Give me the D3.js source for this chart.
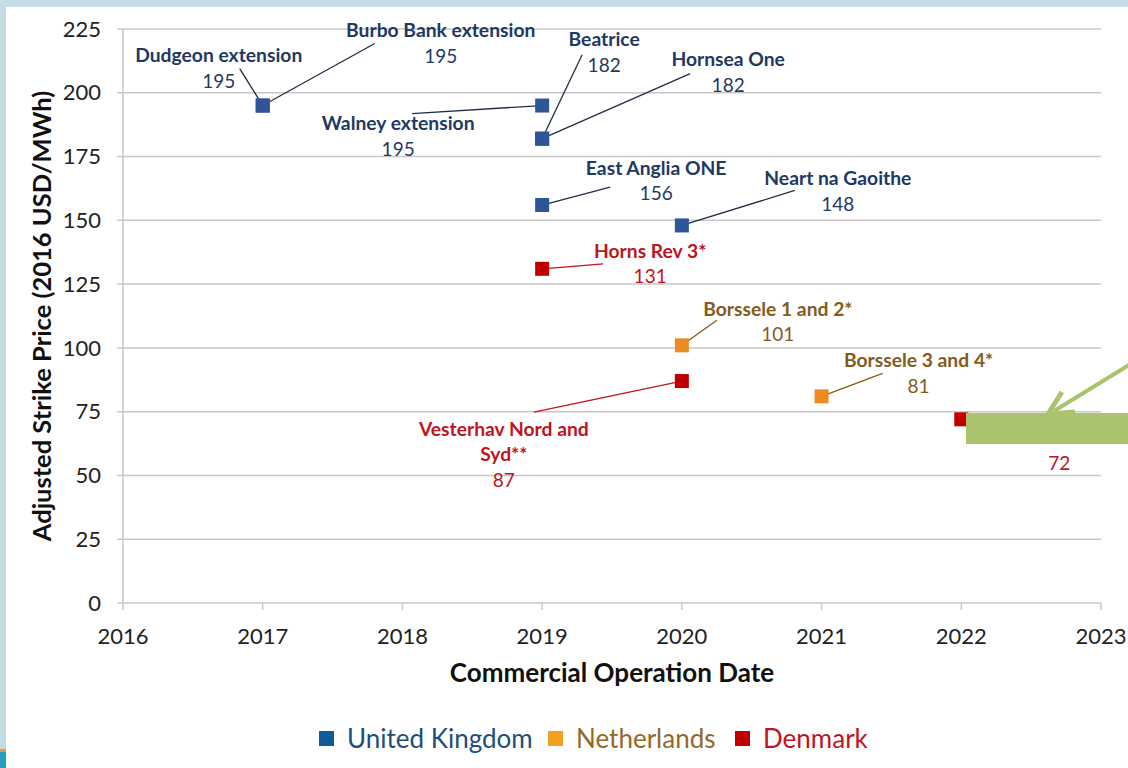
<!DOCTYPE html>
<html><head><meta charset="utf-8">
<script src="https://cdn.jsdelivr.net/npm/d3@7"></script>
<style>
html,body{margin:0;padding:0;background:#fff;}
svg{display:block;font-family:Lato,"Open Sans",sans-serif;}
</style></head>
<body><svg id="chart" width="1128" height="768"></svg>
<script>
// ---- data ----
const projects = ["Dudgeon extension","Burbo Bank extension","Walney extension","Beatrice","Hornsea One","East Anglia ONE","Neart na Gaoithe","Horns Rev 3*","Borssele 1 and 2*","Vesterhav Nord and Syd**","Borssele 3 and 4*","Kriegers Flak"];
const countries = ["United Kingdom","United Kingdom","United Kingdom","United Kingdom","United Kingdom","United Kingdom","United Kingdom","Denmark","Netherlands","Denmark","Netherlands","Denmark"];
const years = [2017,2017,2019,2019,2019,2019,2020,2019,2020,2020,2021,2022];
const prices = [195,195,195,182,182,156,148,131,101,87,81,72];
const seriesNames = ["United Kingdom","Netherlands","Denmark"];
const yTicks = [0,25,50,75,100,125,150,175,200,225];
const xTicks = [2016,2017,2018,2019,2020,2021,2022,2023];

// ---- layout (label offsets from point, px) ----
const labelOffsets = [[-44,-50],[178,-75],[-144,18],[62,-99],[186,-79],[114,-37],[156,-47],[108,-18],[96,-36],[-178,48],[97,-36],[98,13]];
const valueGaps = [25.5,25.5,25.5,25.5,25.5,25.5,25.5,25.5,25.5,25.5,25.5,31];
const leaderStarts = [[-23,-37],[112,-62],[-130,8],[40,-84],[148,-65],[68,-18],[113,-35],[61,-5],[35,-25],[-148,31],[61,-23],[40,0]];
const markerColor = {"United Kingdom":"#2F5597","Netherlands":"#ED8B23","Denmark":"#C00000"};
const textColor = {"United Kingdom":"#1F3864","Netherlands":"#845B1E","Denmark":"#C0141E"};
const lineColor = {"United Kingdom":"#1F2D45","Netherlands":"#845B1E","Denmark":"#C0141E"};
const legendText = {"United Kingdom":"#1E4E79","Netherlands":"#94682A","Denmark":"#C0141E"};
const legendMarker = {"United Kingdom":"#0F5C9A","Netherlands":"#F2A021","Denmark":"#C00000"};

const svg = d3.select("#chart");
// frame
svg.append("rect").attr("x",0).attr("y",0).attr("width",1128).attr("height",768).attr("fill","#fff");
svg.append("rect").attr("x",0).attr("y",0).attr("width",1128).attr("height",7).attr("fill","#C5DCE4");
svg.append("rect").attr("x",0).attr("y",0).attr("width",6).attr("height",749).attr("fill","#C5DCE4");
svg.append("rect").attr("x",0).attr("y",749).attr("width",6).attr("height",3).attr("fill","#E8964A");
svg.append("rect").attr("x",0).attr("y",752).attr("width",6).attr("height",16).attr("fill","#2A9DBD");

const x = d3.scaleLinear().domain([2016,2023]).range([123,1101]);
const y = d3.scaleLinear().domain([0,225]).range([603,29]);

// gridlines
const g = svg.append("g");
g.selectAll("line.grid").data(yTicks).join("line")
  .attr("x1",117).attr("x2",1101).attr("y1",d=>y(d)).attr("y2",d=>y(d))
  .attr("stroke","#C8C8C8").attr("stroke-width",1.5);
g.append("line").attr("x1",123).attr("x2",123).attr("y1",y(225)).attr("y2",y(0)).attr("stroke","#C8C8C8").attr("stroke-width",1.5);
g.selectAll("line.xt").data(xTicks).join("line")
  .attr("x1",d=>x(d)).attr("x2",d=>x(d)).attr("y1",y(0)).attr("y2",y(0)+7)
  .attr("stroke","#C8C8C8").attr("stroke-width",1.5);

// tick labels
g.selectAll("text.yl").data(yTicks).join("text")
  .attr("x",101).attr("y",d=>y(d)).attr("dy","0.35em").attr("text-anchor","end")
  .attr("font-size",22).attr("fill","#222").text(d=>d);
g.selectAll("text.xl").data(xTicks).join("text")
  .attr("x",d=>x(d)).attr("y",636).attr("dy","0.35em").attr("text-anchor","middle")
  .attr("font-size",22).attr("fill","#222").text(d=>d);

// axis titles
svg.append("text").attr("transform","translate(42,316) rotate(-90)").attr("text-anchor","middle").attr("dy","0.35em")
  .attr("font-size",25.5).attr("font-weight","bold").attr("fill","#111").text("Adjusted Strike Price (2016 USD/MWh)");
svg.append("text").attr("x",612).attr("y",673).attr("dy","0.35em").attr("text-anchor","middle")
  .attr("font-size",26).attr("font-weight","bold").attr("fill","#111").text("Commercial Operation Date");

const pts = projects.map((p,i)=>({name:p,country:countries[i],year:years[i],price:prices[i],off:labelOffsets[i],ls:leaderStarts[i],gap:valueGaps[i]}));

// leaders
svg.selectAll("line.leader").data(pts).join("line")
  .attr("x1",d=>x(d.year)+d.ls[0]).attr("y1",d=>y(d.price)+d.ls[1])
  .attr("x2",d=>x(d.year)).attr("y2",d=>y(d.price))
  .attr("stroke",d=>lineColor[d.country]).attr("stroke-width",1.3);

// markers
const ms = 14;
svg.selectAll("rect.m").data(pts).join("rect")
  .attr("x",d=>x(d.year)-ms/2).attr("y",d=>y(d.price)-ms/2).attr("width",ms).attr("height",ms)
  .attr("fill",d=>markerColor[d.country]);

// labels
const lab = svg.selectAll("g.lab").data(pts).join("g")
  .attr("transform",d=>`translate(${x(d.year)+d.off[0]},${y(d.price)+d.off[1]})`);
lab.each(function(d){
  const gg = d3.select(this);
  let lines = [d.name];
  if (d.name.startsWith("Vesterhav")) lines = ["Vesterhav Nord and","Syd**"];
  lines.forEach((t,k)=>{
    gg.append("text").attr("y",k*25.5).attr("dy","0.35em").attr("text-anchor","middle")
      .attr("font-size",19.3).attr("font-weight","bold").attr("fill",textColor[d.country]).text(t);
  });
  gg.append("text").attr("y",(lines.length-1)*25.5+d.gap).attr("dy","0.35em").attr("text-anchor","middle")
    .attr("font-size",19).attr("fill",textColor[d.country]).text(d.price);
});

// green overlay box and arrow
svg.append("rect").attr("x",966).attr("y",413).attr("width",162).attr("height",31).attr("fill","#A9C46C");
svg.append("line").attr("x1",1134).attr("y1",362).attr("x2",1054).attr("y2",411).attr("stroke","#A9C46C").attr("stroke-width",4);
svg.append("path").attr("d","M1048,414 L1062,392 M1048,414 L1075,412").attr("stroke","#A9C46C").attr("stroke-width",5).attr("fill","none").attr("stroke-linecap","butt");

// legend
const legX = [319,548,735];
const leg = svg.selectAll("g.leg").data(seriesNames).join("g")
  .attr("transform",(d,i)=>`translate(${legX[i]},739)`);
leg.append("rect").attr("x",0).attr("y",-8).attr("width",15).attr("height",15).attr("fill",d=>legendMarker[d]);
leg.append("text").attr("x",28).attr("y",0).attr("dy","0.35em").attr("font-size",26).attr("fill",d=>legendText[d]).text(d=>d);
</script></body></html>
